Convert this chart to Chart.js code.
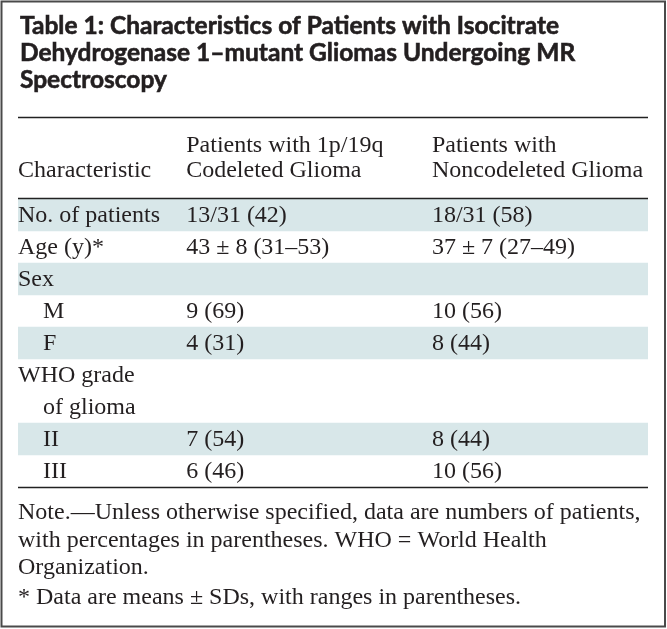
<!DOCTYPE html>
<html>
<head>
<meta charset="utf-8">
<script src="https://cdn.jsdelivr.net/npm/chart.js@4"></script>
<style>
  html, body { margin: 0; padding: 0; background: #fff; }
  canvas { display: block; }
</style>
</head>
<body>
<canvas id="c" width="667" height="629"></canvas>
<script>
const titleLines = [
  'Table 1: Characteristics of Patients with Isocitrate',
  'Dehydrogenase 1–mutant Gliomas Undergoing MR',
  'Spectroscopy'
];
const headerCol1 = ['', 'Characteristic'];
const headerCol2 = ['Patients with 1p/19q', 'Codeleted Glioma'];
const headerCol3 = ['Patients with', 'Noncodeleted Glioma'];

const rowLabels = ['No. of patients', 'Age (y)*', 'Sex', 'M', 'F', 'WHO grade', 'of glioma', 'II', 'III'];
const codeleted = ['13/31 (42)', '43 ± 8 (31–53)', '', '9 (69)', '4 (31)', '', '', '7 (54)', '6 (46)'];
const noncodeleted = ['18/31 (58)', '37 ± 7 (27–49)', '', '10 (56)', '8 (44)', '', '', '8 (44)', '10 (56)'];
const shadedRows = [1, 0, 1, 0, 1, 0, 0, 1, 0];
const indentRows = [0, 0, 0, 1, 1, 0, 1, 1, 1];

const noteLines = [
  'Note.—Unless otherwise specified, data are numbers of patients,',
  'with percentages in parentheses. WHO = World Health',
  'Organization.',
  '* Data are means ± SDs, with ranges in parentheses.'
];

const colStart = [0, 0.267, 0.657];

const SERIF = '"Liberation Serif", "Times New Roman", serif';
const TEXT = '#231f20';

const tablePlugin = {
  id: 'tableText',
  beforeDraw(chart) {
    const ctx = chart.ctx;
    ctx.save();
    ctx.fillStyle = '#fff';
    ctx.fillRect(0, 0, chart.width, chart.height);
    ctx.restore();
  },
  afterDraw(chart) {
    const { ctx, scales: { x, y }, chartArea } = chart;
    ctx.save();
    ctx.textBaseline = 'alphabetic';
    ctx.textAlign = 'left';
    ctx.fillStyle = TEXT;

    // outer frame
    ctx.strokeStyle = '#4a4a4a';
    ctx.lineWidth = 2;
    ctx.strokeRect(1.5, 1.5, chart.width - 3.5, chart.height - 4);

    // title
    ctx.font = 'bold 24.5px Lato, "Open Sans", sans-serif';
    ctx.strokeStyle = TEXT;
    ctx.lineWidth = 0.6;
    const titleBase = [34, 61, 88];
    titleLines.forEach((t, i) => { ctx.fillText(t, 20, titleBase[i]); ctx.strokeText(t, 20, titleBase[i]); });

    const left = chartArea.left, right = chartArea.right;
    // rules
    ctx.strokeStyle = '#222';
    ctx.lineWidth = 1.5;
    [117.5, chartArea.top - 0.5, chartArea.bottom + 0.5].forEach(yy => {
      ctx.beginPath(); ctx.moveTo(left, yy); ctx.lineTo(right, yy); ctx.stroke();
    });

    // header
    ctx.font = '24px ' + SERIF;
    const hBase = [152, 177];
    [headerCol1, headerCol2, headerCol3].forEach((col, c) => {
      const px = x.getPixelForValue(colStart[c]);
      col.forEach((t, i) => { if (t) ctx.fillText(t, px, hBase[i]); });
    });

    // body
    rowLabels.forEach((lab, i) => {
      const cy = y.getPixelForValue(i) + 7;
      const px = x.getPixelForValue(colStart[0]) + (indentRows[i] ? 25 : 0);
      ctx.fillText(lab, px, cy);
      if (codeleted[i]) ctx.fillText(codeleted[i], x.getPixelForValue(colStart[1]), cy);
      if (noncodeleted[i]) ctx.fillText(noncodeleted[i], x.getPixelForValue(colStart[2]), cy);
    });

    // notes
    const nBase = [519, 547, 574, 604];
    noteLines.forEach((t, i) => ctx.fillText(t, left, nBase[i]));
    ctx.restore();
  }
};

new Chart(document.getElementById('c'), {
  type: 'bar',
  data: {
    labels: rowLabels,
    datasets: [{
      data: shadedRows.map(s => s ? [0, 1] : null),
      backgroundColor: '#d8e7e9',
      borderWidth: 0,
      barPercentage: 1,
      categoryPercentage: 1
    }]
  },
  options: {
    indexAxis: 'y',
    responsive: false,
    animation: false,
    layout: { padding: { left: 18, right: 19, top: 199, bottom: 142 } },
    plugins: { legend: { display: false }, tooltip: { enabled: false }, title: { display: false } },
    scales: {
      x: { type: 'linear', min: 0, max: 1, display: false },
      y: { type: 'category', display: false, offset: true }
    }
  },
  plugins: [tablePlugin]
});
</script>
</body>
</html>
